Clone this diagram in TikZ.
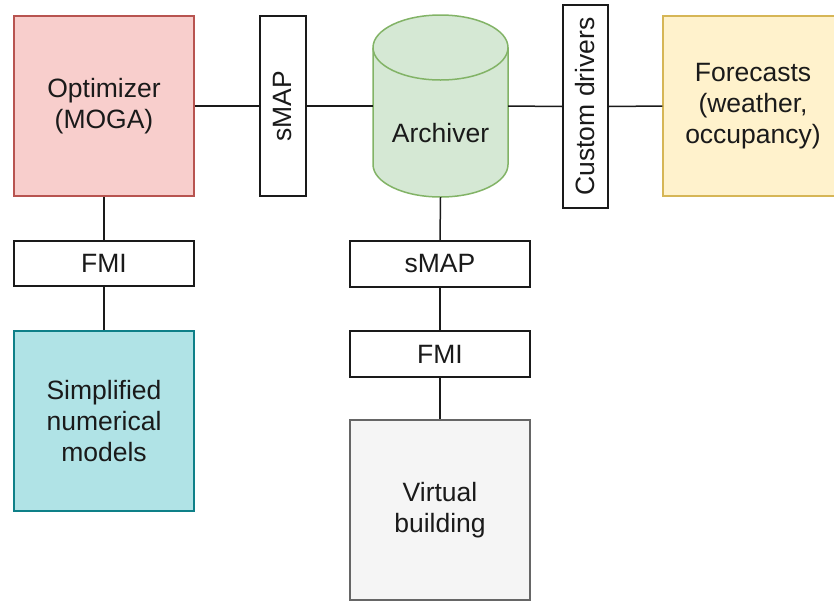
\documentclass[tikz,border=0pt]{standalone}
\usepackage{fontspec}
\setmainfont{Liberation Sans}
\definecolor{optfill}{HTML}{F8CECC}
\definecolor{optline}{HTML}{B85450}
\definecolor{arcfill}{HTML}{D5E8D4}
\definecolor{arcline}{HTML}{82B366}
\definecolor{fcfill}{HTML}{FFF2CC}
\definecolor{fcline}{HTML}{D6B656}
\definecolor{simfill}{HTML}{B0E3E6}
\definecolor{simline}{HTML}{0E8088}
\definecolor{vbfill}{HTML}{F5F5F5}
\definecolor{vbline}{HTML}{666666}
\definecolor{ink}{HTML}{1A1A1A}
\tikzset{
  lbl/.style={font=\fontsize{26.5}{31}\selectfont, text=ink, align=center},
  bigbox/.style={lbl, draw, line width=1.5pt, minimum width=180pt, minimum height=180pt, inner sep=0pt},
  plainbox/.style={lbl, draw=ink, fill=white, line width=1.5pt, inner sep=0pt},
  wire/.style={draw=ink, line width=1.5pt},
}
\begin{document}
\begin{tikzpicture}[x=1pt,y=-1pt]
\useasboundingbox (0,0) rectangle (834,600);

% top row
\node[bigbox, fill=optfill, draw=optline] (opt) at (104,106) {Optimizer\\(MOGA)};
\node[plainbox, minimum width=180pt, minimum height=46pt, rotate=90] (smapv) at (283,106) {sMAP};
\node[plainbox, minimum width=203pt, minimum height=45pt, rotate=90] (cd) at (585.5,106.5) {Custom drivers};
\node[bigbox, fill=fcfill, draw=fcline] (fc) at (753,106) {Forecasts\\(weather,\\occupancy)};

% archiver cylinder (y axis points down, so angle 90 is downwards)
\node[minimum width=135pt, minimum height=182pt, inner sep=0pt] (arch) at (440.5,106) {};
\draw[fill=arcfill, draw=arcline, line width=1.5pt]
  (373,47.5) -- (373,164.5) arc[start angle=180, end angle=0, x radius=67.5, y radius=32.5]
  -- (508,47.5) arc[start angle=0, end angle=-180, x radius=67.5, y radius=32.5] -- cycle;
\draw[draw=arcline, line width=1.5pt]
  (373,47.5) arc[start angle=180, end angle=0, x radius=67.5, y radius=32.5];
\node[lbl] (archtext) at (440.5,133) {Archiver};

% left column
\node[plainbox, minimum width=180pt, minimum height=45pt] (fmil) at (104,263.5) {FMI};
\node[bigbox, fill=simfill, draw=simline] (sim) at (104,421) {Simplified\\numerical\\models};

% centre column
\node[plainbox, minimum width=180pt, minimum height=46pt] (smaph) at (440,264) {sMAP};
\node[plainbox, minimum width=180pt, minimum height=46pt] (fmic) at (440,354) {FMI};
\node[bigbox, fill=vbfill, draw=vbline] (vb) at (440,510) {Virtual\\building};

% connectors
\draw[wire] (opt.east) -- (smapv.north);
\draw[wire] (smapv.south) -- (arch.west);
\draw[wire] (arch.east) -- (cd.north);
\draw[wire] (cd.south) -- (fc.west);
\draw[wire] (opt.south) -- (fmil.north);
\draw[wire] (fmil.south) -- (sim.north);
\draw[wire] (arch.south) -- (smaph.north);
\draw[wire] (smaph.south) -- (fmic.north);
\draw[wire] (fmic.south) -- (vb.north);
\end{tikzpicture}
\end{document}
